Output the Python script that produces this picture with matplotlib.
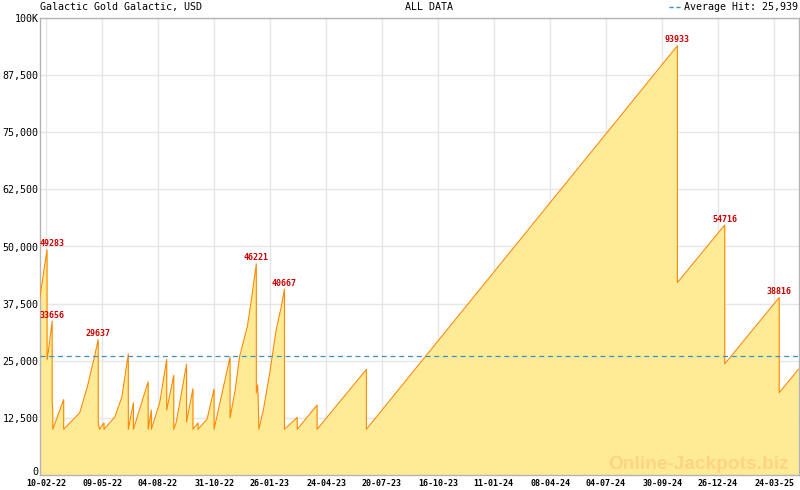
import matplotlib
matplotlib.use("Agg")
import matplotlib.pyplot as plt
import matplotlib.dates as mdates
from matplotlib.ticker import FixedLocator, AutoMinorLocator, FuncFormatter
from matplotlib.lines import Line2D
import pandas as pd

# jackpot history
dates = [
    "2022-02-01", "2022-02-12", "2022-02-12", "2022-02-14", "2022-02-20", "2022-02-20",
    "2022-02-21", "2022-02-21", "2022-03-10", "2022-03-10", "2022-04-04", "2022-04-16",
    "2022-04-27", "2022-05-03", "2022-05-03", "2022-05-05", "2022-05-12", "2022-05-12",
    "2022-05-29", "2022-06-09", "2022-06-19", "2022-06-19", "2022-06-27", "2022-06-27",
    "2022-07-20", "2022-07-20", "2022-07-25", "2022-07-25", "2022-08-07", "2022-08-18",
    "2022-08-18", "2022-08-29", "2022-08-29", "2022-09-02", "2022-09-18", "2022-09-18",
    "2022-09-28", "2022-09-28", "2022-10-06", "2022-10-06", "2022-10-20", "2022-10-31",
    "2022-10-31", "2022-11-25", "2022-11-25", "2022-12-03", "2022-12-10", "2022-12-22",
    "2022-12-29", "2023-01-05", "2023-01-05", "2023-01-07", "2023-01-08", "2023-01-09",
    "2023-01-16", "2023-01-26", "2023-02-05", "2023-02-13", "2023-02-18", "2023-02-18",
    "2023-03-10", "2023-03-10", "2023-04-10", "2023-04-10", "2023-06-26", "2023-06-26",
    "2024-10-24", "2024-10-24", "2025-01-06", "2025-01-06", "2025-04-01", "2025-04-01",
    "2025-05-01",
]
values = [
    39000, 49283, 25200, 27000, 33656, 16000,
    14000, 10000, 16500, 10000, 13600, 19300,
    25800, 29637, 11400, 10000, 11400, 10000,
    12700, 17100, 26500, 10000, 15800, 10000,
    20400, 10000, 14200, 10000, 15800, 25300,
    14200, 21800, 10000, 11600, 24200, 11600,
    18900, 10000, 11400, 10000, 12200, 18800,
    10000, 25800, 12500, 18600, 26000, 32500,
    39000, 46221, 18000, 19700, 16500, 10000,
    14200, 22300, 31700, 36800, 40667, 10000,
    12600, 10000, 15300, 10000, 23100, 10000,
    93933, 42100, 54716, 24300, 38816, 18000,
    23100,
]
labelled_peaks = [49283, 33656, 29637, 46221, 40667, 93933, 54716, 38816]
average_hit = 25939

tick_dates = ["2022-02-10", "2022-05-09", "2022-08-04", "2022-10-31", "2023-01-26",
              "2023-04-24", "2023-07-20", "2023-10-16", "2024-01-11", "2024-04-08",
              "2024-07-04", "2024-09-30", "2024-12-26", "2025-03-24"]
y_ticks = [0, 12500, 25000, 37500, 50000, 62500, 75000, 87500, 100000]

x = pd.to_datetime(dates)
xmin = pd.Timestamp("2022-02-01")
xmax = pd.Timestamp("2025-05-02")

fig = plt.figure(figsize=(8, 4.9), dpi=100)
ax = fig.add_axes([40 / 800, 15 / 490, 759 / 800, 457 / 490])

ax.fill_between(x, values, 0, color="#ffea95", linewidth=0, zorder=1)
ax.plot(x, values, color="#ff8800", linewidth=0.8, zorder=3)
ax.axhline(average_hit, color="#3d8fc6", linestyle=(0, (4, 3)), linewidth=0.9, zorder=4)

# peak labels, kept inside the plot near the edges
for d, v in zip(x, values):
    if v not in labelled_peaks:
        continue
    ha = "center"
    px = d
    if (d - xmin).days < 12:
        ha, px = "left", xmin
    elif (xmax - d).days < 12:
        ha, px = "right", xmax
    ax.annotate(str(v), (px, v), xytext=(0, 1), textcoords="offset points",
                ha=ha, va="bottom", fontsize=6, color="#cc0000",
                family="DejaVu Sans Mono", fontweight="bold", zorder=5)

ax.set_xlim(xmin, xmax)
ax.set_ylim(0, 100000)

ax.xaxis.set_major_locator(FixedLocator(mdates.date2num(pd.to_datetime(tick_dates))))
ax.xaxis.set_major_formatter(mdates.DateFormatter("%d-%m-%y"))
ax.xaxis.set_minor_locator(AutoMinorLocator(8))
ax.set_yticks(y_ticks)
ax.yaxis.set_major_formatter(FuncFormatter(lambda v, p: "100K" if v == 100000 else f"{int(v):,}"))

ax.tick_params(axis="x", which="major", direction="in", length=6, color="#a8a8c8",
               labelsize=6, pad=3)
ax.tick_params(axis="x", which="minor", direction="in", length=3, color="#a8a8c8")
ax.tick_params(axis="y", length=0, labelsize=7.2, pad=1)
for lab in ax.get_xticklabels():
    lab.set_family("DejaVu Sans Mono")
    lab.set_fontweight("bold")
for lab in ax.get_yticklabels():
    lab.set_family("DejaVu Sans Mono")
# the "0" label sits on the axis line, like the reference
ax.get_yticklabels()[0].set_va("baseline")

ax.grid(True, which="major", color="#e6e6e6", linewidth=1.0, zorder=0)
ax.set_axisbelow(True)
for s in ax.spines.values():
    s.set_color("#b4b4b4")
    s.set_linewidth(1.0)

ax.text(0.987, 0.004, "Online-Jackpots.biz", transform=ax.transAxes, ha="right", va="bottom",
        fontsize=13.8, fontweight="bold", family="Liberation Sans", color="#fdd484", zorder=2)

fig.text(40 / 800, 1 - 7 / 490, "Galactic Gold Galactic, USD", ha="left", va="center",
         fontsize=7.2, family="DejaVu Sans Mono")
fig.text(429 / 800, 1 - 7 / 490, "ALL DATA", ha="center", va="center",
         fontsize=7.2, family="DejaVu Sans Mono")
fig.lines.append(Line2D([669 / 800, 682 / 800], [1 - 7 / 490] * 2, transform=fig.transFigure,
                        color="#3d8fc6", linestyle=(0, (3, 2)), linewidth=1.0))
fig.text(798 / 800, 1 - 7 / 490, "Average Hit: 25,939", ha="right", va="center",
         fontsize=7.2, family="DejaVu Sans Mono")

fig.savefig("out.png", dpi=100)
